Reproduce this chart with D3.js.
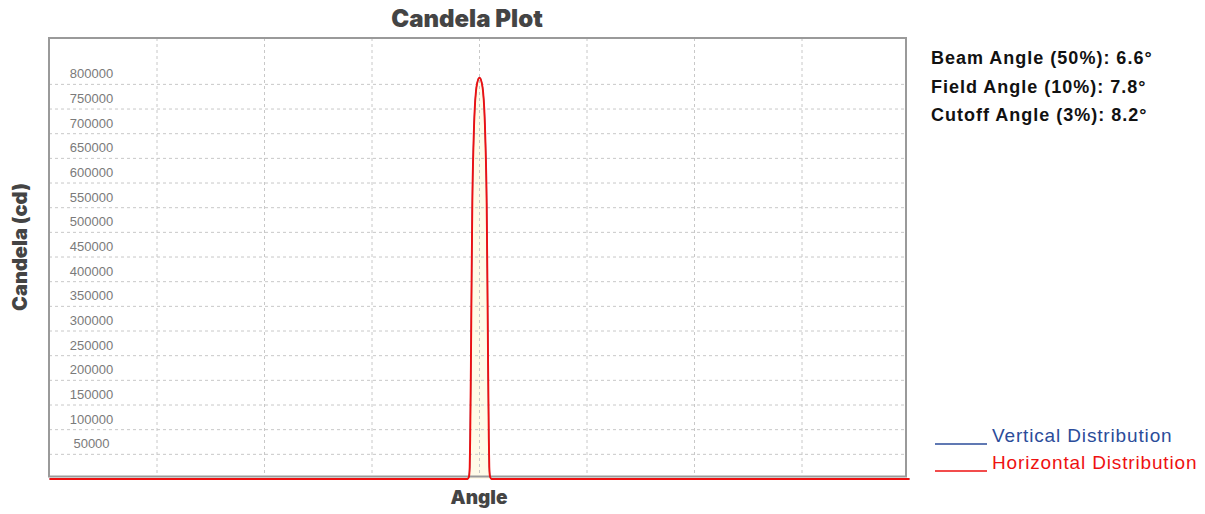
<!DOCTYPE html>
<html>
<head>
<meta charset="utf-8">
<script src="https://cdn.jsdelivr.net/npm/d3@7"></script>
<style>
  html, body { margin: 0; padding: 0; background: #fff; }
  svg { display: block; }
</style>
</head>
<body>
<svg id="chart" width="1205" height="514"></svg>
<script>
// Candela distribution (angle in degrees, intensity in cd)
const angles = [-180, -135, -90, -45, -10, -5, -4.4, -4.1, -3.9, -3.6, -3.3, -3, -2.5, -2, -1.5, -1, 0,
                1, 1.5, 2, 2.5, 3, 3.3, 3.6, 3.9, 4.1, 4.4, 5, 10, 45, 90, 135, 180];
const horizontalCd = [0, 0, 0, 0, 0, 0, 5000, 24400, 81350, 230000, 406750, 560000, 680000, 750000, 785000, 802000, 813500,
                      802000, 785000, 750000, 680000, 560000, 406750, 230000, 81350, 24400, 5000, 0, 0, 0, 0, 0, 0];
const verticalCd = horizontalCd.slice();

const xTicks = [-135, -90, -45, 0, 45, 90, 135];
const yTicks = [50000, 100000, 150000, 200000, 250000, 300000, 350000, 400000,
                450000, 500000, 550000, 600000, 650000, 700000, 750000, 800000];
const yMax = 894000;

const stats = [
  "Beam Angle (50%): 6.6°",
  "Field Angle (10%): 7.8°",
  "Cutoff Angle (3%): 8.2°"
];
const legendItems = [
  { label: "Vertical Distribution", color: "#2b4c9a" },
  { label: "Horizontal Distribution", color: "#ee1111" }
];

const svg = d3.select("#chart");
const frame = { left: 49, right: 906, top: 38, bottom: 476.5 };

const x = d3.scaleLinear().domain([-180, 180]).range([49.5, 909.5]);
const y = d3.scaleLinear().domain([0, yMax]).range([479, 38]);

const hData = angles.map((a, i) => ({ a, v: horizontalCd[i] }));
const vData = angles.map((a, i) => ({ a, v: verticalCd[i] }));

// shaded area under the horizontal curve
const area = d3.area()
  .x(d => x(d.a)).y0(y(0)).y1(d => y(d.v))
  .curve(d3.curveMonotoneX);
svg.append("path")
  .datum(hData)
  .attr("d", area)
  .attr("fill", "#fffbe8");

// grid lines
const grid = svg.append("g");
grid.selectAll("line.h").data(yTicks).join("line")
  .attr("x1", frame.left).attr("x2", frame.right)
  .attr("y1", d => y(d)).attr("y2", d => y(d))
  .attr("stroke", "#c8c8c8").attr("stroke-width", 1)
  .attr("stroke-dasharray", "3,3");
grid.selectAll("line.v").data(xTicks).join("line")
  .attr("x1", d => x(d)).attr("x2", d => x(d))
  .attr("y1", frame.top).attr("y2", frame.bottom)
  .attr("stroke", "#c8c8c8").attr("stroke-width", 1)
  .attr("stroke-dasharray", "3,3");

// y tick labels sit just above their grid lines
svg.append("g").selectAll("text").data(yTicks).join("text")
  .attr("x", 91.5).attr("y", d => y(d) - 6)
  .attr("text-anchor", "middle")
  .attr("font-family", "Liberation Sans, Arial, sans-serif")
  .attr("font-size", 13)
  .attr("fill", "#7a7a7a")
  .text(d => d);

// plot frame
svg.append("rect")
  .attr("x", frame.left).attr("y", frame.top)
  .attr("width", frame.right - frame.left)
  .attr("height", frame.bottom - frame.top)
  .attr("fill", "none").attr("stroke", "#9a9a9a").attr("stroke-width", 2);

// distribution curves (vertical underneath, horizontal on top)
const line = d3.line().x(d => x(d.a)).y(d => y(d.v)).curve(d3.curveMonotoneX);
svg.append("path").datum(vData).attr("d", line)
  .attr("fill", "none").attr("stroke", legendItems[0].color).attr("stroke-width", 1.2);
svg.append("path").datum(hData).attr("d", line)
  .attr("fill", "none").attr("stroke", legendItems[1].color).attr("stroke-width", 1.9);

// titles
const heavy = "Inter, Roboto, sans-serif";
svg.append("text")
  .attr("x", 467).attr("y", 27)
  .attr("text-anchor", "middle")
  .attr("font-family", heavy).attr("font-weight", 900)
  .attr("font-size", 24).attr("fill", "#444")
  .text("Candela Plot");
svg.append("text")
  .attr("x", 479).attr("y", 504)
  .attr("text-anchor", "middle")
  .attr("font-family", heavy).attr("font-weight", 900)
  .attr("font-size", 19).attr("fill", "#444")
  .text("Angle");
svg.append("text")
  .attr("transform", "translate(27,247) rotate(-90)")
  .attr("text-anchor", "middle")
  .attr("font-family", heavy).attr("font-weight", 900)
  .attr("font-size", 20).attr("fill", "#444")
  .text("Candela (cd)");

// beam statistics
svg.append("g").selectAll("text").data(stats).join("text")
  .attr("x", 931).attr("y", (d, i) => 64 + i * 28.5)
  .attr("font-family", "Liberation Sans, Arial, sans-serif").attr("font-weight", 700)
  .attr("font-size", 18).attr("letter-spacing", 1).attr("fill", "#111")
  .text(d => d);

// legend
const leg = svg.append("g").selectAll("g").data(legendItems).join("g")
  .attr("transform", (d, i) => `translate(935,${442 + i * 27})`);
leg.append("line")
  .attr("x1", 0).attr("x2", 52).attr("y1", 2).attr("y2", 2)
  .attr("stroke", d => d.color).attr("stroke-width", 1.5);
leg.append("text")
  .attr("x", 57).attr("y", 0)
  .attr("font-family", "Liberation Sans, Arial, sans-serif")
  .attr("font-size", 19).attr("letter-spacing", 0.85).attr("fill", d => d.color)
  .text(d => d.label);
</script>
</body>
</html>
